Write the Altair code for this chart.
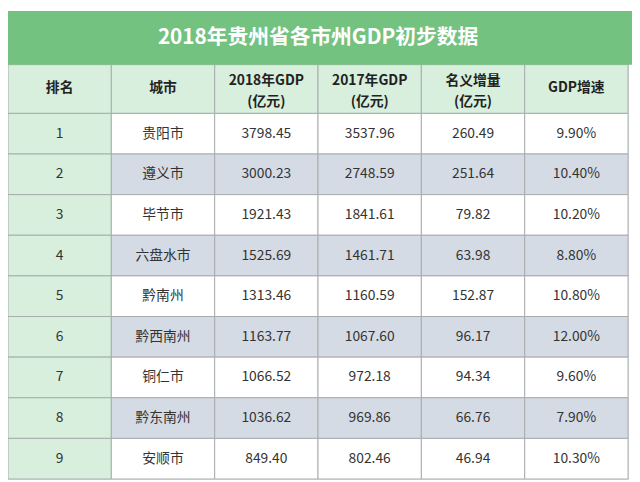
import altair as alt
import pandas as pd

title = "2018年贵州省各市州GDP初步数据"
headers = ["排名", "城市", "2018年GDP\n(亿元)", "2017年GDP\n(亿元)", "名义增量\n(亿元)", "GDP增速"]
ranks = [1, 2, 3, 4, 5, 6, 7, 8, 9]
cities = ["贵阳市", "遵义市", "毕节市", "六盘水市", "黔南州", "黔西南州", "铜仁市", "黔东南州", "安顺市"]
gdp2018 = [3798.45, 3000.23, 1921.43, 1525.69, 1313.46, 1163.77, 1066.52, 1036.62, 849.40]
gdp2017 = [3537.96, 2748.59, 1841.61, 1461.71, 1160.59, 1067.60, 972.18, 969.86, 802.46]
increase = [260.49, 251.64, 79.82, 63.98, 152.87, 96.17, 94.34, 66.76, 46.94]
growth = [9.90, 10.40, 10.20, 8.80, 10.80, 12.00, 9.60, 7.90, 10.30]

GREEN = "#74c27f"
LIGHT = "#d7efdc"
GREY = "#d5dbe4"
WHITE = "#ffffff"
LINE = "#a9acae"

HEADER_H = 1.2
TITLE_H = 1.32

cells = []
for c, h in enumerate(headers):
    kind = "head2" if "\n" in h else "head1"
    cells.append(dict(x=c, x2=c + 1, y=-HEADER_H, y2=0, fill=LIGHT, text=h, kind=kind))
for r in range(len(ranks)):
    rowfill = WHITE if r % 2 == 0 else GREY
    vals = [str(ranks[r]), cities[r], f"{gdp2018[r]:.2f}", f"{gdp2017[r]:.2f}",
            f"{increase[r]:.2f}", f"{growth[r]:.2f}%"]
    for c, v in enumerate(vals):
        cells.append(dict(x=c, x2=c + 1, y=r, y2=r + 1,
                          fill=LIGHT if c == 0 else rowfill, text=v, kind="body"))
df = pd.DataFrame(cells)
df["xc"] = (df["x"] + df["x2"]) / 2
df["yc"] = (df["y"] + df["y2"]) / 2

xs = alt.Scale(domain=[0, 6], nice=False, zero=False)
ys = alt.Scale(domain=[-HEADER_H - TITLE_H, 9], nice=False, zero=False, reverse=True)
FONT = "Noto Sans CJK SC"

base = alt.Chart(df)
rects = base.mark_rect(stroke=LINE, strokeWidth=1).encode(
    x=alt.X("x:Q", scale=xs, axis=None),
    x2="x2:Q",
    y=alt.Y("y:Q", scale=ys, axis=None),
    y2="y2:Q",
    fill=alt.Fill("fill:N", scale=None),
)
pos = dict(x=alt.X("xc:Q", scale=xs, axis=None), y=alt.Y("yc:Q", scale=ys, axis=None), text="text:N")

body_text = base.transform_filter("datum.kind == 'body'").mark_text(
    font=FONT, fontSize=14, color="#333333", baseline="middle", align="center"
).encode(**pos)
head1_text = base.transform_filter("datum.kind == 'head1'").mark_text(
    font=FONT, fontSize=14, fontWeight="bold", color="#222222", baseline="middle",
    align="center", dy=-1
).encode(**pos)
head2_text = base.transform_filter("datum.kind == 'head2'").mark_text(
    font=FONT, fontSize=14, fontWeight="bold", color="#222222", baseline="middle",
    align="center", lineBreak="\n", lineHeight=21, dy=-8
).encode(**pos)

tdf = pd.DataFrame([dict(x=0, y=-HEADER_H - TITLE_H, y2=-HEADER_H, xc=3,
                         yc=-HEADER_H - TITLE_H / 2, text=title)])
tbase = alt.Chart(tdf)
title_rect = tbase.mark_rect(color=GREEN).encode(
    x=alt.X("x:Q", scale=xs, axis=None),
    x2=alt.value(632),
    y=alt.Y("y:Q", scale=ys, axis=None),
    y2="y2:Q",
)
title_text = tbase.mark_text(
    font=FONT, fontSize=21, fontWeight="bold", color="white", baseline="middle", align="center"
).encode(x=alt.X("xc:Q", scale=xs, axis=None), y=alt.Y("yc:Q", scale=ys, axis=None), text="text:N")

chart = alt.layer(rects, title_rect, body_text, head1_text, head2_text, title_text).properties(
    width=628, height=474, padding={"left": 0, "top": 0, "right": 4, "bottom": 0},
    autosize=alt.AutoSizeParams(type="none"),
).configure_view(stroke=None).configure(background="white")

chart.save("out.html", embed_options={"renderer": "svg", "actions": False})
